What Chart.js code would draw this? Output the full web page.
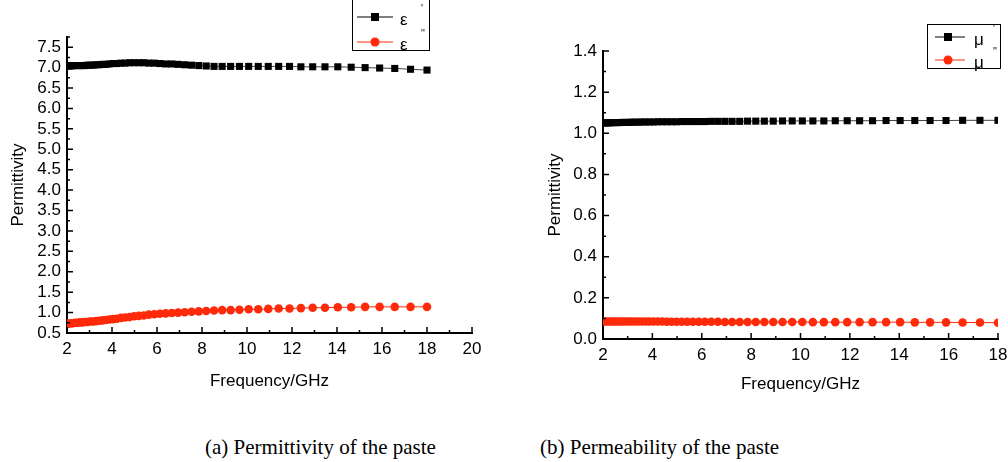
<!DOCTYPE html>
<html>
<head>
<meta charset="utf-8">
<title>Permittivity and permeability of the paste</title>
<script src="https://cdn.jsdelivr.net/npm/chart.js@4.4.0/dist/chart.umd.min.js"></script>
<style>
  html, body { margin: 0; padding: 0; background: #fff; }
  #wrap { position: relative; width: 1008px; height: 462px; overflow: hidden; }
  #permChart { position: absolute; left: 0; top: 0; }
  #muChart { position: absolute; left: 520px; top: 0; }
  .caption { position: absolute; top: 435px; font: 21px "Liberation Serif", "Times New Roman", serif; color: #000; white-space: nowrap; }
</style>
</head>
<body>
<div id="wrap">
  <canvas id="permChart" width="500" height="400"></canvas>
  <canvas id="muChart" width="488" height="400"></canvas>
  <div class="caption" style="left:205px">(a) Permittivity of the paste</div>
  <div class="caption" style="left:540px">(b) Permeability of the paste</div>
</div>
<script>
// frequency sweep, GHz
var freq = [2.000, 2.085, 2.173, 2.265, 2.361, 2.461, 2.565, 2.673, 2.786, 2.904,
            3.027, 3.155, 3.289, 3.428, 3.573, 3.724, 3.882, 4.046, 4.217, 4.396,
            4.583, 4.777, 4.979, 5.190, 5.410, 5.639, 5.877, 6.126, 6.385, 6.656,
            6.937, 7.231, 7.537, 7.856, 8.188, 8.535, 8.896, 9.273, 9.665, 10.074,
            10.501, 10.945, 11.408, 11.891, 12.395, 12.919, 13.466, 14.036, 14.630, 15.249,
            15.895, 16.567, 17.269, 18.000];

// real / imaginary permittivity
var epsReal = [7.04, 7.04, 7.04, 7.05, 7.05, 7.05, 7.05, 7.05, 7.05, 7.06,
               7.06, 7.06, 7.07, 7.07, 7.08, 7.08, 7.09, 7.10, 7.10, 7.11,
               7.11, 7.12, 7.12, 7.12, 7.12, 7.11, 7.11, 7.10, 7.09, 7.09,
               7.08, 7.07, 7.06, 7.05, 7.04, 7.03, 7.03, 7.03, 7.03, 7.03,
               7.03, 7.03, 7.03, 7.03, 7.02, 7.02, 7.02, 7.02, 7.01, 7.00,
               6.99, 6.98, 6.96, 6.94];
var epsImag = [0.73, 0.73, 0.74, 0.74, 0.75, 0.75, 0.76, 0.76, 0.77, 0.77,
               0.78, 0.78, 0.79, 0.80, 0.81, 0.82, 0.83, 0.84, 0.85, 0.87,
               0.88, 0.89, 0.91, 0.92, 0.93, 0.95, 0.96, 0.97, 0.98, 0.99,
               1.00, 1.01, 1.02, 1.03, 1.04, 1.05, 1.06, 1.06, 1.07, 1.08,
               1.08, 1.09, 1.10, 1.10, 1.11, 1.12, 1.12, 1.13, 1.13, 1.14,
               1.14, 1.14, 1.14, 1.14];

// real / imaginary permeability
var muReal = [1.050, 1.050, 1.051, 1.051, 1.051, 1.052, 1.052, 1.052, 1.053, 1.053,
              1.053, 1.054, 1.054, 1.054, 1.055, 1.055, 1.055, 1.055, 1.056, 1.056,
              1.056, 1.056, 1.056, 1.057, 1.057, 1.057, 1.057, 1.057, 1.058, 1.058,
              1.058, 1.058, 1.058, 1.059, 1.059, 1.059, 1.059, 1.060, 1.060, 1.060,
              1.060, 1.060, 1.061, 1.061, 1.061, 1.061, 1.062, 1.062, 1.062, 1.062,
              1.062, 1.063, 1.063, 1.063];
var muImag = [0.085, 0.085, 0.085, 0.085, 0.085, 0.085, 0.085, 0.085, 0.085, 0.085,
              0.085, 0.085, 0.085, 0.085, 0.085, 0.085, 0.085, 0.085, 0.085, 0.085,
              0.084, 0.084, 0.084, 0.084, 0.084, 0.084, 0.084, 0.084, 0.084, 0.084,
              0.083, 0.083, 0.083, 0.083, 0.083, 0.083, 0.083, 0.083, 0.083, 0.083,
              0.082, 0.082, 0.082, 0.082, 0.082, 0.082, 0.082, 0.082, 0.081, 0.081,
              0.081, 0.080, 0.080, 0.079];

// axis ticks
var permXTicks  = [2, 4, 6, 8, 10, 12, 14, 16, 18, 20];
var permXMinor  = [3, 5, 7, 9, 11, 13, 15, 17, 19];
var permYTicks  = [0.5, 1.0, 1.5, 2.0, 2.5, 3.0, 3.5, 4.0, 4.5, 5.0, 5.5, 6.0, 6.5, 7.0, 7.5];
var permYMinor  = [0.75, 1.25, 1.75, 2.25, 2.75, 3.25, 3.75, 4.25, 4.75, 5.25, 5.75, 6.25, 6.75, 7.25, 7.75];
var muXTicks    = [2, 4, 6, 8, 10, 12, 14, 16, 18];
var muXMinor    = [3, 5, 7, 9, 11, 13, 15, 17];
var muYTicks    = [0.0, 0.2, 0.4, 0.6, 0.8, 1.0, 1.2, 1.4];
var muYMinor    = [0.1, 0.3, 0.5, 0.7, 0.9, 1.1, 1.3];

document.addEventListener('DOMContentLoaded', function () {

    'use strict';

    var black = '#000000';
    var red   = '#ff2a0a';

    Chart.defaults.font.family = '"Liberation Sans", Arial, sans-serif';
    Chart.defaults.color = '#000';

    function xy(xs, ys) {
        return xs.map(function (x, i) { return { x: x, y: ys[i] }; });
    }

    // Origin style ticks pointing into the plot
    var inwardTicks = {
        id: 'inwardTicks',
        afterDraw: function (chart, args, opts) {
            var ctx = chart.ctx;
            var sx = chart.scales.x, sy = chart.scales.y;
            ctx.save();
            ctx.strokeStyle = '#000';
            ctx.lineWidth = 1.5;
            ctx.beginPath();
            opts.xMajor.forEach(function (v) {
                var p = sx.getPixelForValue(v);
                ctx.moveTo(p, sx.top); ctx.lineTo(p, sx.top - 6);
            });
            opts.xMinor.forEach(function (v) {
                var p = sx.getPixelForValue(v);
                ctx.moveTo(p, sx.top); ctx.lineTo(p, sx.top - 3);
            });
            opts.yMajor.forEach(function (v) {
                var p = sy.getPixelForValue(v);
                ctx.moveTo(sy.right, p); ctx.lineTo(sy.right + 6, p);
            });
            opts.yMinor.forEach(function (v) {
                var p = sy.getPixelForValue(v);
                ctx.moveTo(sy.right, p); ctx.lineTo(sy.right + 3, p);
            });
            ctx.stroke();
            ctx.restore();
        }
    };

    // framed legend with the primes set off to the right
    var boxLegend = {
        id: 'boxLegend',
        afterDraw: function (chart, args, opts) {
            var ctx = chart.ctx;
            var b = opts.box;
            ctx.save();
            ctx.strokeStyle = '#000';
            ctx.lineWidth = 1;
            ctx.strokeRect(b.x + 0.5, b.y + 0.5, b.w, b.h);
            opts.items.forEach(function (it) {
                ctx.strokeStyle = it.color;
                ctx.lineWidth = 1;
                ctx.beginPath();
                ctx.moveTo(opts.lineX0, it.y); ctx.lineTo(opts.lineX1, it.y);
                ctx.stroke();
                ctx.fillStyle = it.color;
                ctx.beginPath();
                if (it.shape === 'rect') {
                    ctx.rect(opts.markX - 4, it.y - 4, 8, 8);
                } else {
                    ctx.arc(opts.markX, it.y, 4.5, 0, Math.PI * 2);
                }
                ctx.fill();
                ctx.fillStyle = '#000';
                ctx.textBaseline = 'middle';
                ctx.font = '17px "Liberation Sans", Arial, sans-serif';
                ctx.fillText(it.symbol, opts.textX, it.y + 3);
                ctx.font = '10px "Liberation Sans", Arial, sans-serif';
                ctx.fillText(it.prime, opts.primeX, it.y - 8);
            });
            ctx.restore();
        }
    };

    function axisX(min, max, ticks, titlePad, height) {
        return {
            type: 'linear',
            min: min,
            max: max,
            afterBuildTicks: function (scale) {
                scale.ticks = ticks.map(function (v) { return { value: v }; });
            },
            afterFit: function (scale) {
                scale.height = height;
                scale.paddingLeft = 0;
                scale.paddingRight = 0;
            },
            grid: { display: false, drawTicks: false },
            border: { display: true, color: '#000', width: 2 },
            ticks: {
                autoSkip: false,
                maxRotation: 0,
                padding: 6,
                font: { size: 17 },
                callback: function (v) { return String(v); }
            },
            title: {
                display: true,
                text: 'Frequency/GHz',
                font: { size: 17 },
                padding: { top: 0, bottom: titlePad }
            }
        };
    }

    function axisY(min, max, ticks, titlePad, width) {
        return {
            type: 'linear',
            min: min,
            max: max,
            afterBuildTicks: function (scale) {
                scale.ticks = ticks.map(function (v) { return { value: v }; });
            },
            afterFit: function (scale) { scale.width = width; },
            grid: { display: false, drawTicks: false },
            border: { display: true, color: '#000', width: 2 },
            ticks: {
                autoSkip: false,
                padding: 6,
                font: { size: 17 },
                callback: function (v) { return Number(v).toFixed(1); }
            },
            title: {
                display: true,
                text: 'Permittivity',
                font: { size: 17 },
                padding: { top: titlePad, bottom: 0 }
            }
        };
    }

    function realSet(label, values) {
        return {
            label: label,
            data: xy(freq, values),
            borderColor: '#444',
            borderWidth: 1,
            pointStyle: 'rect',
            pointRadius: 5,
            pointBorderWidth: 0,
            pointBackgroundColor: black,
            pointBorderColor: black
        };
    }

    function imagSet(label, values) {
        return {
            label: label,
            data: xy(freq, values),
            borderColor: red,
            borderWidth: 1,
            pointStyle: 'circle',
            pointRadius: 4.3,
            pointBorderWidth: 0,
            pointBackgroundColor: red,
            pointBorderColor: red
        };
    }

    var PERMCHART = document.getElementById('permChart');
    var permChart = new Chart(PERMCHART, {
        type: 'line',
        data: {
            datasets: [ realSet("ε'", epsReal), imagSet("ε''", epsImag) ]
        },
        options: {
            responsive: false,
            animation: false,
            devicePixelRatio: 1,
            layout: { padding: { left: 0, right: 28, top: 37, bottom: 0 } },
            plugins: {
                legend: { display: false },
                tooltip: { enabled: false },
                inwardTicks: { xMajor: permXTicks, xMinor: permXMinor, yMajor: permYTicks, yMinor: permYMinor },
                boxLegend: {
                    box: { x: 352, y: -6, w: 77, h: 56 },
                    lineX0: 357, lineX1: 393, markX: 375, textX: 400, primeX: 421,
                    items: [
                        { y: 17, color: black, shape: 'rect', symbol: 'ε', prime: "'" },
                        { y: 42, color: red, shape: 'circle', symbol: 'ε', prime: "''" }
                    ]
                }
            },
            scales: {
                x: axisX(2, 20, permXTicks, 8, 67),
                y: axisY(0.5, 7.75, permYTicks, 8, 67)
            }
        },
        plugins: [inwardTicks, boxLegend]
    });

    var MUCHART = document.getElementById('muChart');
    var muChart = new Chart(MUCHART, {
        type: 'line',
        data: {
            datasets: [ realSet("μ'", muReal), imagSet("μ''", muImag) ]
        },
        options: {
            responsive: false,
            animation: false,
            devicePixelRatio: 1,
            layout: { padding: { left: 0, right: 10, top: 51, bottom: 0 } },
            plugins: {
                legend: { display: false },
                tooltip: { enabled: false },
                inwardTicks: { xMajor: muXTicks, xMinor: muXMinor, yMajor: muYTicks, yMinor: muYMinor },
                boxLegend: {
                    box: { x: 407, y: 24, w: 73, h: 44 },
                    lineX0: 415, lineX1: 445, markX: 428, textX: 454, primeX: 473,
                    items: [
                        { y: 37, color: black, shape: 'rect', symbol: 'μ', prime: "'" },
                        { y: 60, color: red, shape: 'circle', symbol: 'μ', prime: "''" }
                    ]
                }
            },
            scales: {
                x: axisX(2, 18, muXTicks, 5, 61),
                y: axisY(0, 1.4, muYTicks, 25, 83)
            }
        },
        plugins: [inwardTicks, boxLegend]
    });
});
</script>
</body>
</html>
